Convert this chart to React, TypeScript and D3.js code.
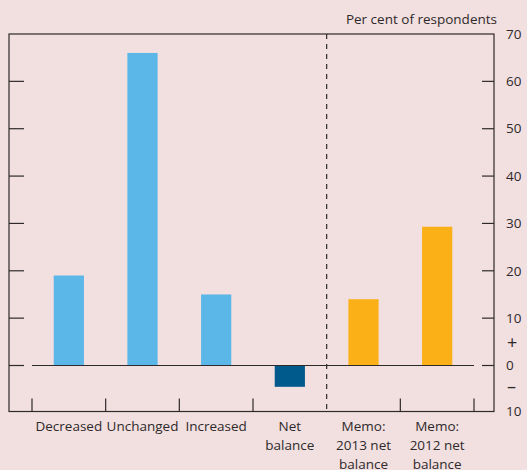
import React from "react";
import * as d3 from "d3";

const categories = ["Decreased", "Unchanged", "Increased", "Net balance", "Memo: 2013 net balance", "Memo: 2012 net balance"];
const labelLines = [["Decreased"], ["Unchanged"], ["Increased"], ["Net", "balance"], ["Memo:", "2013 net", "balance"], ["Memo:", "2012 net", "balance"]];
const values = [19, 66, 15, -4.5, 14, 29.3];
const barKinds = ["share", "share", "share", "net", "memo", "memo"];
const yTicks = [-10, 0, 10, 20, 30, 40, 50, 60, 70];

const W = 527;
const H = 470;
const colors: Record<string, string> = { share: "#5bb7e8", net: "#005a8c", memo: "#fcb018" };

export default function App() {
  const left = 9, right = 494, top = 34, bottom = 411.5;
  // 70 sits on the top of the frame; -10 on the bottom
  const y = d3.scaleLinear().domain([0, 70]).range([365.5, top]);
  const x = d3.scaleBand<string>().domain(categories).range([32, 474]).paddingInner(0.59).paddingOuter(0.295);
  const step = x.step();
  const tickXs = categories.map((c) => (x(c) as number) - (step - x.bandwidth()) / 2);
  tickXs.push(474);
  const dashX = tickXs[4];
  const ink = "#2e2a2b";
  const font = "'Open Sans', 'Noto Sans', sans-serif";

  return (
    <svg width={W} height={H} style={{ position: "absolute", left: 0, top: 0 }} fontFamily={font}>
      <rect width={W} height={H} fill="#f2dfdf" />
      {categories.map((c, i) => (
        <rect
          key={c}
          x={x(c)}
          width={x.bandwidth()}
          y={y(Math.max(0, values[i]))}
          height={Math.abs(y(values[i]) - y(0))}
          fill={colors[barKinds[i]]}
        />
      ))}
      {/* zero line */}
      <line x1={32} x2={474} y1={y(0)} y2={y(0)} stroke={ink} strokeWidth={1.2} />
      {/* frame */}
      <rect x={left} y={top} width={right - left} height={bottom - top} fill="none" stroke={ink} strokeWidth={1.2} />
      {yTicks.filter((t) => t > -10 && t < 70).map((t) => (
        <g key={t}>
          <line x1={left} x2={left + 15} y1={y(t)} y2={y(t)} stroke={ink} strokeWidth={1.2} />
          <line x1={right - 12} x2={right} y1={y(t)} y2={y(t)} stroke={ink} strokeWidth={1.2} />
        </g>
      ))}
      {tickXs.map((tx, i) =>
        i === 4 ? null : <line key={i} x1={tx} x2={tx} y1={bottom - 13} y2={bottom} stroke={ink} strokeWidth={1.2} />
      )}
      <line x1={dashX} x2={dashX} y1={top} y2={bottom} stroke={ink} strokeWidth={1.2} strokeDasharray="5,5" />
      {yTicks.map((t) => (
        <text key={t} x={506} y={t === -10 ? bottom : y(t)} dy="0.35em" fontSize={13.5} fill={ink}>
          {Math.abs(t)}
        </text>
      ))}
      <text x={507} y={349} fontSize={18} fill={ink}>+</text>
      <text x={507} y={393} fontSize={18} fill={ink}>–</text>
      <text x={497} y={24} textAnchor="end" fontSize={13.5} fill={ink}>Per cent of respondents</text>
      {categories.map((c, i) => (
        <text key={c} x={(x(c) as number) + x.bandwidth() / 2} textAnchor="middle" fontSize={13.5} fill={ink}>
          {labelLines[i].map((l, j) => (
            <tspan key={j} x={(x(c) as number) + x.bandwidth() / 2} y={431 + j * 19}>{l}</tspan>
          ))}
        </text>
      ))}
    </svg>
  );
}
